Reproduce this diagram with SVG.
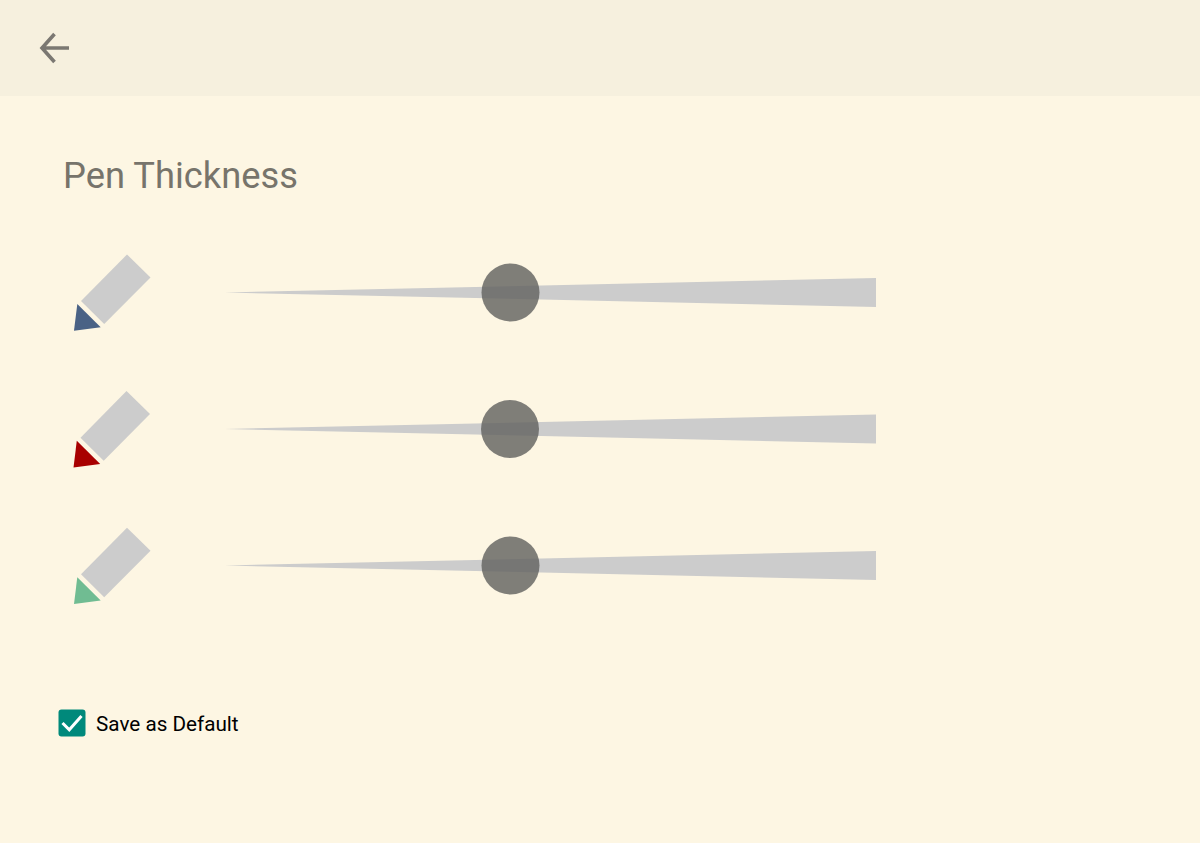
<svg xmlns="http://www.w3.org/2000/svg" width="1200" height="843" viewBox="0 0 1200 843">
<style>
.body{fill:#cccccc}
.track{fill:#cccccc}
.thumb{fill:#636360;fill-opacity:.82}
text{font-family:Roboto,"Liberation Sans",sans-serif}
</style>
<defs>
<g id="pen"><polygon class="body" points="127,254.4 150.500,277.400 104.200,324 81,301"/></g>
<g id="slider"><polygon class="track" points="225,292.500 876,278 876,307"/></g>
</defs>
<rect width="1200" height="843" fill="#fdf6e3"/>
<rect id="toolbar" width="1200" height="96" fill="#f6f0de"/>
<g id="back"><path d="M69 48H43M54.500 34L42 48L54.500 62" fill="none" stroke="#7b7872" stroke-width="3.600"/></g>
<text id="title" x="63" y="188" font-size="36.300" fill="#77746b">Pen Thickness</text>
<g id="pen-blue"><use href="#pen"/><polygon points="77.300,304 100.700,327.300 74,330.700" fill="#4a6285"/></g>
<g id="pen-red" transform="translate(-0.500 136.700)"><use href="#pen"/><polygon points="77.300,304 100.700,327.300 74,330.700" fill="#a80000"/></g>
<g id="pen-green" transform="translate(0 273.300)"><use href="#pen"/><polygon points="77.300,304 100.700,327.300 74,330.700" fill="#70bc92"/></g>
<g id="slider-blue"><use href="#slider"/><circle class="thumb" cx="510.500" cy="292.500" r="29"/></g>
<g id="slider-red"><use href="#slider" y="136.500"/><circle class="thumb" cx="510" cy="429" r="29"/></g>
<g id="slider-green"><use href="#slider" y="273"/><circle class="thumb" cx="510.500" cy="565.500" r="29"/></g>
<g id="save-default"><rect x="58.500" y="709.500" width="27" height="27" rx="3" fill="#00897b"/><path d="M62.500 723L69.300 729.800L81.500 716" fill="none" stroke="#fff" stroke-width="3"/>
<text x="96" y="731" font-size="20.700" fill="#000">Save as Default</text></g>
</svg>
